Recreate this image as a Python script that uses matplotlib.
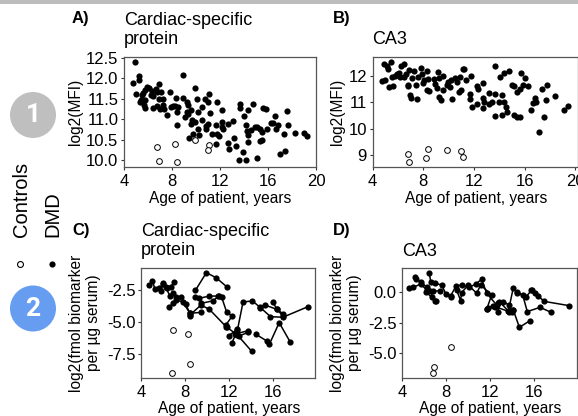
import matplotlib
matplotlib.use("Agg")
import matplotlib.pyplot as plt
from matplotlib.patches import Circle

plt.rcParams['font.family'] = ['Liberation Sans', 'DejaVu Sans']

W, H = 578, 416

a_dmd_x = [4.92,4.72,5.25,5.22,5.03,5.39,5.36,5.61,5.47,5.75,5.94,6.11,5.72,5.69,5.72,6.22,6.44,6.31,6.64,6.75,6.92,7.06,6.42,6.72,6.94,7.28,7.03,7.22,7.36,7.56,7.81,7.92,8.11,8.31,8.25,8.53,8.39,8.39,8.89,8.89,9.22,9.31,9.11,9.22,9.61,9.36,9.64,9.56,9.92,9.89,10.11,10.19,10.53,10.47,10.17,9.78,9.39,10.28,10.78,11.0,11.08,11.17,11.03,10.83,10.81,11.33,11.67,11.75,11.94,11.75,11.67,12.17,12.14,12.17,12.28,12.67,12.64,12.78,13.11,13.17,13.33,13.64,13.67,13.61,14.14,13.94,14.03,14.17,14.33,14.22,14.36,14.56,14.33,14.72,14.92,15.11,15.33,15.53,15.11,15.33,15.53,15.61,15.81,15.89,16.22,16.44,16.61,16.81,16.69,17.0,17.39,17.31,17.61,17.69,18.28,19.0,19.28]
a_dmd_y = [12.40,11.89,12.05,11.95,11.61,11.46,11.42,11.65,11.59,11.71,11.79,11.77,11.46,11.36,11.28,11.59,11.56,11.69,11.75,11.67,11.87,11.66,11.28,11.33,11.50,11.50,11.26,11.34,11.26,11.11,11.67,11.30,11.32,11.53,11.32,11.30,11.18,10.85,12.09,11.53,11.42,11.36,11.06,11.18,11.22,11.14,10.98,10.89,10.93,11.76,11.50,11.18,11.30,10.98,10.75,10.65,10.53,10.61,11.50,11.42,11.63,11.15,10.89,10.83,10.75,10.63,10.87,10.63,10.59,11.41,10.39,11.22,10.93,10.81,10.77,10.89,10.42,10.28,10.95,10.53,10.34,11.37,11.28,10.0,10.0,10.2,11.07,10.85,11.22,10.71,10.61,10.73,10.45,11.38,10.81,10.81,10.75,10.69,10.06,10.47,10.49,11.28,11.26,10.76,10.90,10.90,11.07,10.87,10.76,10.16,10.22,10.63,11.19,10.85,10.67,10.67,10.59]
a_ctrl_x = [6.78,6.92,8.25,8.39,9.92,11.08,10.97]
a_ctrl_y = [10.33,9.99,10.39,9.96,10.50,10.38,10.26]

b_dmd_x = [4.71,5.0,4.89,5.18,5.42,5.26,5.31,5.65,5.52,5.78,5.92,6.10,6.26,6.49,6.18,6.49,6.65,6.76,6.91,7.10,7.28,6.83,6.97,7.02,7.54,7.39,7.62,7.81,7.94,8.09,8.02,8.28,8.36,8.33,8.49,8.88,8.93,9.12,9.20,9.28,9.25,9.41,9.59,9.59,9.91,9.98,10.17,10.12,10.30,10.51,10.64,10.85,10.98,10.90,11.11,11.24,11.38,11.69,11.69,11.80,11.87,12.21,12.21,12.29,12.71,12.69,12.82,12.69,13.19,13.21,13.40,13.69,13.69,13.69,14.08,13.97,14.21,14.18,14.39,14.37,14.50,14.58,14.79,14.97,15.18,15.18,15.36,15.42,15.63,15.63,15.68,15.89,15.99,16.28,16.49,16.68,16.81,16.86,17.10,17.39,17.49,17.70,17.78,18.38,19.09,19.38]
b_dmd_y = [11.81,11.84,12.43,12.38,12.53,12.25,11.56,11.61,11.96,11.99,12.06,12.11,12.38,12.46,11.96,11.94,12.06,11.65,12.21,11.92,12.17,11.61,11.27,11.17,11.12,11.65,11.94,12.30,12.05,11.84,11.74,12.17,11.87,11.46,11.42,11.89,11.69,11.55,12.16,11.92,11.21,11.08,12.0,11.46,11.65,11.77,11.84,11.56,11.12,11.90,11.77,11.40,11.48,11.96,12.27,12.24,11.84,11.33,11.12,12.0,10.81,10.92,11.61,11.52,11.71,11.15,11.02,10.77,11.36,10.92,11.02,12.36,11.33,10.49,11.96,11.02,11.27,10.52,12.12,11.02,10.83,10.62,12.19,11.65,11.62,10.52,10.43,11.40,11.52,10.46,12.11,11.65,11.90,11.62,10.71,10.96,11.18,11.02,9.87,11.52,10.43,11.08,11.66,11.25,10.71,10.87]
b_ctrl_x = [6.76,6.91,8.25,8.41,9.91,10.98,11.11]
b_ctrl_y = [9.04,8.75,8.90,9.24,9.20,9.18,8.94]

c_lines_x = [
    [4.70,5.0,5.24,5.76,6.0,6.36,6.67,7.0],
    [5.64,6.0,6.21,6.61,6.91,7.12,7.61,8.03,8.42,8.42],
    [6.52,6.91,7.12,7.76,8.42,9.39],
    [8.91,9.91,10.79,11.82],
    [8.91,9.21,10.18,11.09,11.3,11.76,12.27,11.67,11.76],
    [9.42,10.55,11.0],
    [8.42,9.42,10.18,11.7,12.73,14.03],
    [11.94,12.73,12.85,13.73],
    [12.21,12.73,13.24,14.09,14.82,15.73,16.85,19.12],
    [12.52,13.73],
    [14.42,15.39,15.64,16.52,17.52],
    [14.79,15.24,16.3,16.91],
    [15.94,16.3,16.85],
]
c_lines_y = [
    [-2.14,-1.77,-2.42,-2.58,-1.98,-2.37,-2.24,-1.88],
    [-2.37,-2.03,-2.29,-2.97,-2.76,-3.07,-3.07,-3.61,-4.31,-4.52],
    [-3.85,-3.48,-3.28,-3.41,-4.31,-4.24],
    [-2.53,-1.15,-1.54,-2.29],
    [-3.07,-3.15,-2.97,-2.97,-3.07,-4.24,-4.52,-5.22,-5.40],
    [-3.54,-3.33,-2.97],
    [-4.44,-3.67,-4.0,-5.35,-6.0,-7.27],
    [-6.05,-5.56,-6.08,-5.79],
    [-6.65,-5.61,-3.43,-3.35,-3.87,-4.57,-4.62,-3.80],
    [-5.92,-5.66],
    [-5.95,-6.46,-6.70,-5.04,-6.54],
    [-3.80,-3.67,-4.0,-4.37],
    [-3.43,-3.98,-4.52],
]
c_ctrl_x = [6.88,8.24,8.42,6.76]
c_ctrl_y = [-5.58,-5.89,-8.23,-8.95]

d_lines_x = [
    [4.64,5.0,5.67,6.21,6.52,6.97],
    [5.18,5.24,5.67,6.21,6.82,7.42],
    [6.45,6.58,6.97,7.58,7.97,8.39],
    [6.12,6.67,7.03],
    [8.39,8.88,9.39,10.09,10.67,11.21,11.67,12.58],
    [8.94,9.3,9.39,10.0,10.76,11.12,12.12,11.67],
    [11.67,12.27,12.73,13.18,13.7,13.94],
    [12.73,12.82,13.64,14.09,14.45,14.94,15.36,16.52,17.52],
    [11.82,12.42,13.7,14.09],
    [15.7,16.36,16.88,19.15],
    [14.39,15.21,15.76,16.06],
    [14.09,14.64,15.61],
]
d_lines_y = [
    [0.33,0.41,0.68,0.19,0.11,-0.71],
    [1.28,1.09,0.87,0.41,0.11,0.11],
    [1.61,0.87,0.74,0.60,-0.16,-0.36],
    [0.05,-0.41,-0.71],
    [-0.30,0.52,0.60,0.41,0.68,1.07,-0.08,-1.04],
    [0.19,-0.68,-0.03,0.60,-0.08,0.60,-0.22,-1.39],
    [-1.39,-1.09,-0.90,-0.77,-1.04,-1.58],
    [-1.58,-0.77,-1.53,0.38,-0.08,-0.22,-1.58,-1.23,-1.64],
    [-1.31,-1.17,-1.58,-1.45],
    [0.19,-0.30,-0.74,-1.09],
    [0.05,-0.41,0.19,-0.03],
    [-1.45,-2.87,-2.32],
]
d_ctrl_x = [8.39,6.91,6.76]
d_ctrl_y = [-4.48,-6.15,-6.61]

x_label = "Age of patient, years"

fig = plt.figure(figsize=(W/100, H/100), dpi=100)

def make_ax(l, t, r, b, xlim, ylim, xticks, yticks, ylabels, ylabel, ylab_x, title, title_x, title_y, tag, tag_x, tag_y, xlab_y):
    ax = fig.add_axes([l/W, 1-b/H, (r-l)/W, (b-t)/H])
    ax.set_xlim(*xlim); ax.set_ylim(*ylim)
    ax.set_xticks(xticks); ax.set_yticks(yticks); ax.set_yticklabels(ylabels)
    ax.tick_params(labelsize=12, length=2.5, width=0.8, colors='#333333', labelcolor='black')
    ax.tick_params(axis='x', pad=3)
    ax.tick_params(axis='y', pad=1.5)
    for s in ax.spines.values():
        s.set_color('#555555'); s.set_linewidth(0.9)
    fig.text((l+r)/2/W + 0.5/W, 1-xlab_y/H, x_label, ha='center', va='center', fontsize=11.2)
    fig.text(ylab_x/W, 1-(t+b)/2/H, ylabel, rotation=90, ha='center', va='center', fontsize=11.2, linespacing=1.1)
    fig.text(title_x/W, 1-title_y/H, title, ha='left', va='center', fontsize=13, linespacing=1.2)
    fig.text(tag_x/W, 1-tag_y/H, tag, ha='left', va='center', fontsize=12, fontweight='bold')
    return ax

def pts(ax, x, y, open_=False):
    if open_:
        ax.scatter(x, y, s=17, facecolor='white', edgecolor='black', linewidth=0.7, zorder=4, clip_on=False)
    else:
        ax.scatter(x, y, s=20, color='black', linewidth=0, zorder=3, clip_on=False)

axA = make_ax(124, 56.7, 316, 166.7, (4, 20), (9.84, 12.53), [4,8,12,16,20], [10,10.5,11,11.5,12,12.5],
              ['10.0','10.5','11.0','11.5','12.0','12.5'], 'log2(MFI)', 75, 'Cardiac-specific\nprotein', 124, 30, 'A)', 72, 18, 198)
pts(axA, a_dmd_x, a_dmd_y); pts(axA, a_ctrl_x, a_ctrl_y, True)

axB = make_ax(372.5, 56.7, 578, 166.7, (4, 20.2), (8.57, 12.72), [4,8,12,16,20], [9,10,11,12],
              ['9','10','11','12'], 'log2(MFI)', 338, 'CA3', 372, 39.5, 'B)', 333, 18, 198)
pts(axB, b_dmd_x, b_dmd_y); pts(axB, b_ctrl_x, b_ctrl_y, True)

axC = make_ax(141.3, 268.3, 315.3, 377.7, (4, 19.8), (-9.32, -0.81), [4,8,12,16], [-2.5,-5,-7.5],
              ['-2.5','-5.0','-7.5'], 'log2(fmol biomarker\nper µg serum)', 85, 'Cardiac-specific\nprotein', 141, 241, 'C)', 72, 230, 409)
for lx, ly in zip(c_lines_x, c_lines_y):
    axC.plot(lx, ly, color='black', lw=1.1, zorder=2)
    pts(axC, lx, ly)
pts(axC, c_ctrl_x, c_ctrl_y, True)

axD = make_ax(402.3, 268.3, 576.7, 377.7, (4, 19.85), (-7.0, 1.97), [4,8,12,16], [0,-2.5,-5],
              ['0.0','-2.5','-5.0'], 'log2(fmol biomarker\nper µg serum)', 346, 'CA3', 402, 251, 'D)', 333, 230, 409)
for lx, ly in zip(d_lines_x, d_lines_y):
    axD.plot(lx, ly, color='black', lw=1.1, zorder=2)
    pts(axD, lx, ly)
pts(axD, d_ctrl_x, d_ctrl_y, True)

ov = fig.add_axes([0, 0, 1, 1], zorder=-1)
ov.set_xlim(0, W); ov.set_ylim(H, 0); ov.axis('off')
ov.fill_between([0, W], 0, 3.5, color='#bdbdbd', linewidth=0)
ov.add_patch(Circle((33, 115), 23, color='#bfbfbf', linewidth=0))
ov.add_patch(Circle((33, 308.5), 23, color='#669df0', linewidth=0))
ov.text(33, 115.5, '1', color='white', fontsize=19, fontweight='bold', ha='center', va='center', family='Roboto')
ov.text(33, 309, '2', color='white', fontsize=19, fontweight='bold', ha='center', va='center', family='Roboto')
ov.text(21, 199.5, 'Controls', rotation=90, fontsize=14.5, ha='center', va='center')
ov.text(53, 214, 'DMD', rotation=90, fontsize=14.5, ha='center', va='center')
ov.scatter([20], [264], s=18, facecolor='white', edgecolor='black', linewidth=0.8)
ov.scatter([52], [264], s=20, color='black', linewidth=0)

fig.savefig('out.png', dpi=100, facecolor='white')
